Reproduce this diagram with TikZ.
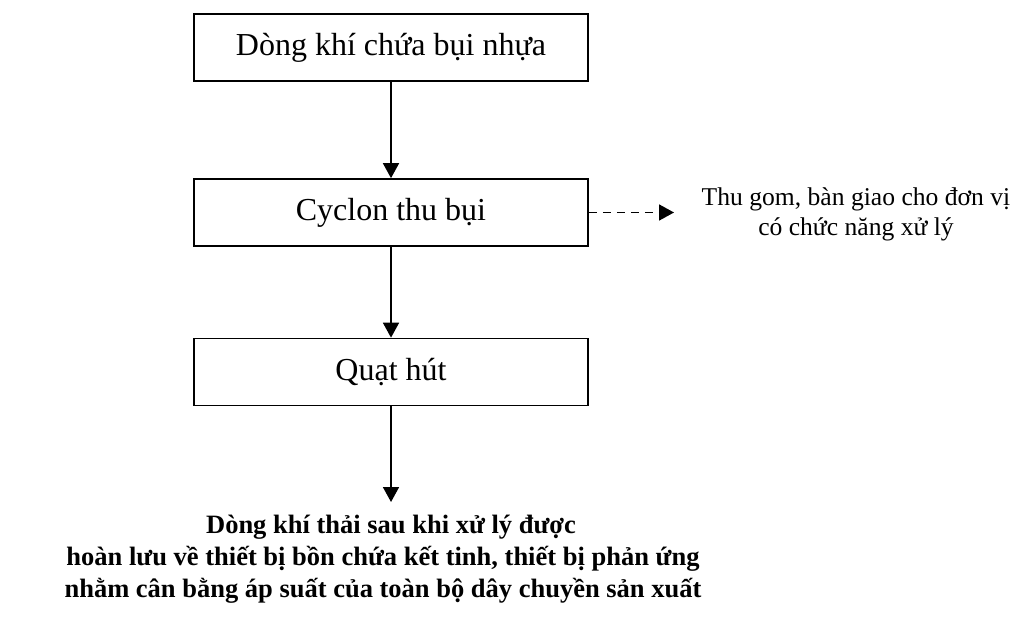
\documentclass[tikz,border=0pt]{standalone}
\usepackage{fontspec}
\setmainfont{Liberation Serif}
\usetikzlibrary{arrows.meta}

\tikzset{
	buoc/.style={draw, line width=1.7pt, minimum width=394pt, minimum height=67pt, font=\fontsize{32}{38}\selectfont},
	mui/.style={-{Triangle[width=16pt,length=15pt]}, line width=1.7pt},
}

\begin{document}
\begin{tikzpicture}[x=1pt,y=-1pt]
	\useasboundingbox (0,0) rectangle (1024,621);
	\draw (391,47.5) node[buoc](dongkhi) {Dòng khí chứa bụi nhựa};
	\draw (391,212.5) node[buoc](cyclon) {Cyclon thu bụi};
	\draw (391,372) node[buoc](quat) {Quạt hút};
	\draw (856,214) node[align=center, font=\fontsize{25.6}{30}\selectfont](thugom) {Thu gom, bàn giao cho đơn vị\\có chức năng xử lý};
	\draw (383,559) node[align=center, font=\fontsize{26.5}{32}\selectfont\bfseries](thai) {\hspace*{16pt}Dòng khí thải sau khi xử lý được\\hoàn lưu về thiết bị bồn chứa kết tinh, thiết bị phản ứng\\nhằm cân bằng áp suất của toàn bộ dây chuyền sản xuất};
	\coordinate (ra) at (674,212.5);
	\coordinate (cuoi) at (391,502);
	\draw[mui] (dongkhi) -- (cyclon);
	\draw[mui] (cyclon) -- (quat);
	\draw[mui] (quat) -- (cuoi);
	\draw[mui, dashed, dash pattern=on 8pt off 6pt] (cyclon) -- (ra);
\end{tikzpicture}
\end{document}
